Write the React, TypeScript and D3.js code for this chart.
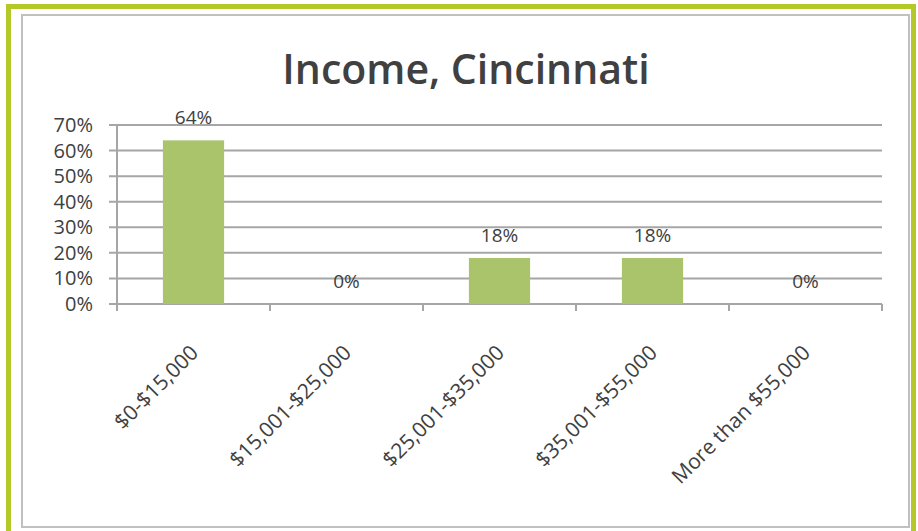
import React from "react";
import * as d3 from "d3";

const categories = ["$0-$15,000", "$15,001-$25,000", "$25,001-$35,000", "$35,001-$55,000", "More than $55,000"];
const values = [64, 0, 18, 18, 0];
const yTicks = [0, 10, 20, 30, 40, 50, 60, 70];
const title = "Income, Cincinnati";

const W = 918;
const H = 531;
const FONT = "'Open Sans', sans-serif";

export default function App() {
  const left = 117;
  const right = 882;
  const top = 125;
  const bottom = 304;
  const x = d3.scaleBand<string>().domain(categories).range([left, right]).paddingInner(0.6).paddingOuter(0.3);
  const xOuter = d3.scaleBand<string>().domain(categories).range([left, right]);
  const y = d3.scaleLinear().domain([0, 70]).range([bottom, top]);
  const grid = "#a6a6a6";
  const text = "#404040";
  return (
    <svg width={W} height={H} style={{ position: "absolute", left: 0, top: 0, background: "#fff" }}>
      <rect x={8.5} y={6.5} width={905} height={540} fill="none" stroke="#b5c82a" strokeWidth={5} />
      <rect x={22} y={15} width={887} height={512} fill="none" stroke="#c0c0c0" strokeWidth={2} />
      <text x={466} y={84} textAnchor="middle" fontFamily={FONT} fontWeight={600} fontSize={41} fill={text}>
        {title}
      </text>
      {yTicks.map((t) => (
        <g key={t}>
          <line x1={left - 8} x2={right} y1={y(t)} y2={y(t)} stroke={grid} strokeWidth={2} />
          <text x={93} y={y(t) + 7} textAnchor="end" fontFamily={FONT} fontSize={20} fill={text}>
            {t}%
          </text>
        </g>
      ))}
      <line x1={left} x2={left} y1={top} y2={bottom + 7} stroke={grid} strokeWidth={2} />
      {categories.map((c, i) => (
        <line key={"t" + i} x1={(xOuter(c) as number) + xOuter.bandwidth()} x2={(xOuter(c) as number) + xOuter.bandwidth()} y1={bottom} y2={bottom + 7} stroke={grid} strokeWidth={2} />
      ))}
      {categories.map((c, i) => (
        <rect key={"b" + i} x={x(c)} width={x.bandwidth()} y={y(values[i])} height={bottom - y(values[i])} fill="#a9c46b" />
      ))}
      {categories.map((c, i) => (
        <text key={"l" + i} x={(x(c) as number) + x.bandwidth() / 2} y={y(values[i]) - 16} textAnchor="middle" fontFamily={FONT} fontSize={19} fill={text}>
          {values[i]}%
        </text>
      ))}
      {categories.map((c, i) => {
        const cx = (xOuter(c) as number) + xOuter.bandwidth() / 2 + 6;
        const cy = bottom + 50;
        return (
          <text key={"x" + i} transform={`translate(${cx},${cy}) rotate(-45)`} textAnchor="end" fontFamily={FONT} fontSize={21} fill={text}>
            {c}
          </text>
        );
      })}
    </svg>
  );
}
